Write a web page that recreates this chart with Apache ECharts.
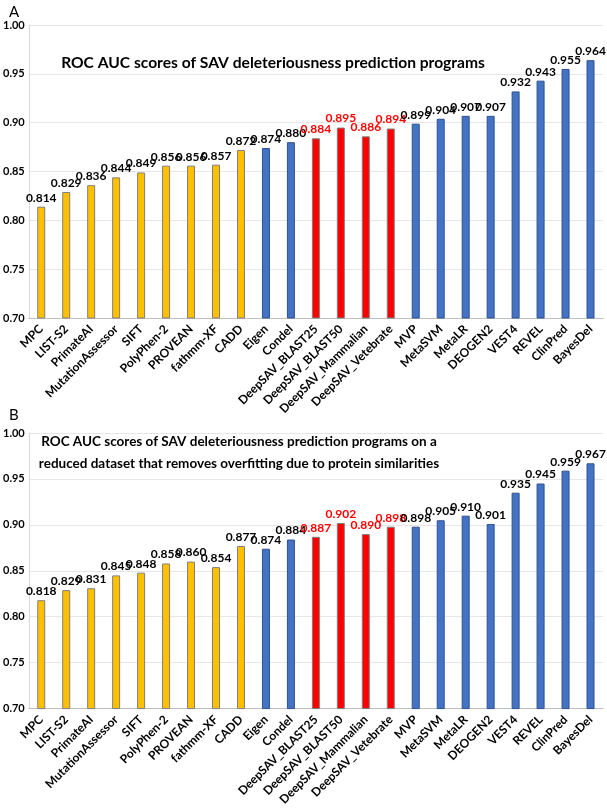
<!DOCTYPE html>
<html>
<head>
<meta charset="utf-8">
<script src="https://cdn.jsdelivr.net/npm/echarts@6/dist/echarts.min.js"></script>
<style>
  html, body { margin: 0; padding: 0; background: #fff; }
  #chart { width: 607px; height: 808px; }
</style>
</head>
<body>
<div id="chart"></div>
<script>
var programs = ['MPC', 'LIST-S2', 'PrimateAI', 'MutationAssessor', 'SIFT', 'PolyPhen-2', 'PROVEAN',
    'fathmm-XF', 'CADD', 'Eigen', 'Condel', 'DeepSAV_BLAST25', 'DeepSAV_BLAST50', 'DeepSAV_Mammalian',
    'DeepSAV_Vetebrate', 'MVP', 'MetaSVM', 'MetaLR', 'DEOGEN2', 'VEST4', 'REVEL', 'ClinPred', 'BayesDel'];
var aucFull = [0.814, 0.829, 0.836, 0.844, 0.849, 0.856, 0.856, 0.857, 0.872, 0.874, 0.880, 0.884, 0.895,
    0.886, 0.894, 0.899, 0.904, 0.907, 0.907, 0.932, 0.943, 0.955, 0.964];
var aucReduced = [0.818, 0.829, 0.831, 0.845, 0.848, 0.858, 0.860, 0.854, 0.877, 0.874, 0.884, 0.887, 0.902,
    0.890, 0.898, 0.898, 0.905, 0.910, 0.901, 0.935, 0.945, 0.959, 0.967];
// colour group per program: 0 yellow, 1 blue, 2 red (DeepSAV)
var groups = [0, 0, 0, 0, 0, 0, 0, 0, 0, 1, 1, 2, 2, 2, 2, 1, 1, 1, 1, 1, 1, 1, 1];

var fill = ['#FFC000', '#4472C4', '#FF0000'];
var edge = ['#7F7F7F', '#2F528F', '#7F7F7F'];
var font = 'Lato, "Open Sans", sans-serif';

function barData(values) {
    return values.map(function(v, i) {
        var g = groups[i];
        return {
            value: v,
            itemStyle: { color: fill[g], borderColor: edge[g], borderWidth: 1 },
            label: { color: g === 2 ? '#FF0000' : '#000' }
        };
    });
}

function xAxisFor(idx) {
    return {
        type: 'category', gridIndex: idx, data: programs,
        axisLine: { lineStyle: { color: '#BFBFBF' } },
        axisTick: { show: false },
        axisLabel: { rotate: 45, interval: 0, fontFamily: font, fontWeight: 'bold', fontSize: 12, color: '#000', margin: 9 }
    };
}

function yAxisFor(idx) {
    return {
        type: 'value', gridIndex: idx, min: 0.70, max: 1.00, interval: 0.05,
        axisLine: { show: true, lineStyle: { color: '#D9D9D9' } },
        axisTick: { show: false },
        splitLine: { lineStyle: { color: '#E6E6E6' } },
        axisLabel: {
            fontFamily: font, fontWeight: 'bold', fontSize: 11, color: '#000', margin: 4,
            formatter: function(v) { return v.toFixed(2); }
        }
    };
}

function seriesFor(idx, values) {
    return {
        type: 'bar', xAxisIndex: idx, yAxisIndex: idx, barWidth: 8,
        data: barData(values),
        label: {
            show: true, position: 'top', distance: 3,
            fontFamily: font, fontWeight: 'bold', fontSize: 12,
            formatter: function(p) { return p.value.toFixed(3); }
        }
    };
}

var chart = echarts.init(document.getElementById('chart'));
chart.setOption({
    animation: false,
    title: [
        { text: 'A', left: 4, top: 0, textStyle: { fontFamily: font, fontWeight: 'normal', fontSize: 15, color: '#000' } },
        { text: 'B', left: 4, top: 403, textStyle: { fontFamily: font, fontWeight: 'normal', fontSize: 15, color: '#000' } },
        {
            text: 'ROC AUC scores of SAV deleteriousness prediction programs',
            left: 268, top: 50, textAlign: 'center',
            textStyle: { fontFamily: font, fontWeight: 'bold', fontSize: 15.6, color: '#000' }
        },
        {
            text: 'ROC AUC scores of SAV deleteriousness prediction programs on a\nreduced dataset that removes overfitting due to protein similarities',
            left: 234, top: 426, textAlign: 'center',
            textStyle: { fontFamily: font, fontWeight: 'bold', fontSize: 13.5, lineHeight: 22, color: '#000' }
        }
    ],
    grid: [
        { left: 27, right: 4, top: 25, bottom: 490 },
        { left: 27, right: 4, top: 433, bottom: 98 }
    ],
    xAxis: [xAxisFor(0), xAxisFor(1)],
    yAxis: [yAxisFor(0), yAxisFor(1)],
    series: [seriesFor(0, aucFull), seriesFor(1, aucReduced)]
});
</script>
</body>
</html>
